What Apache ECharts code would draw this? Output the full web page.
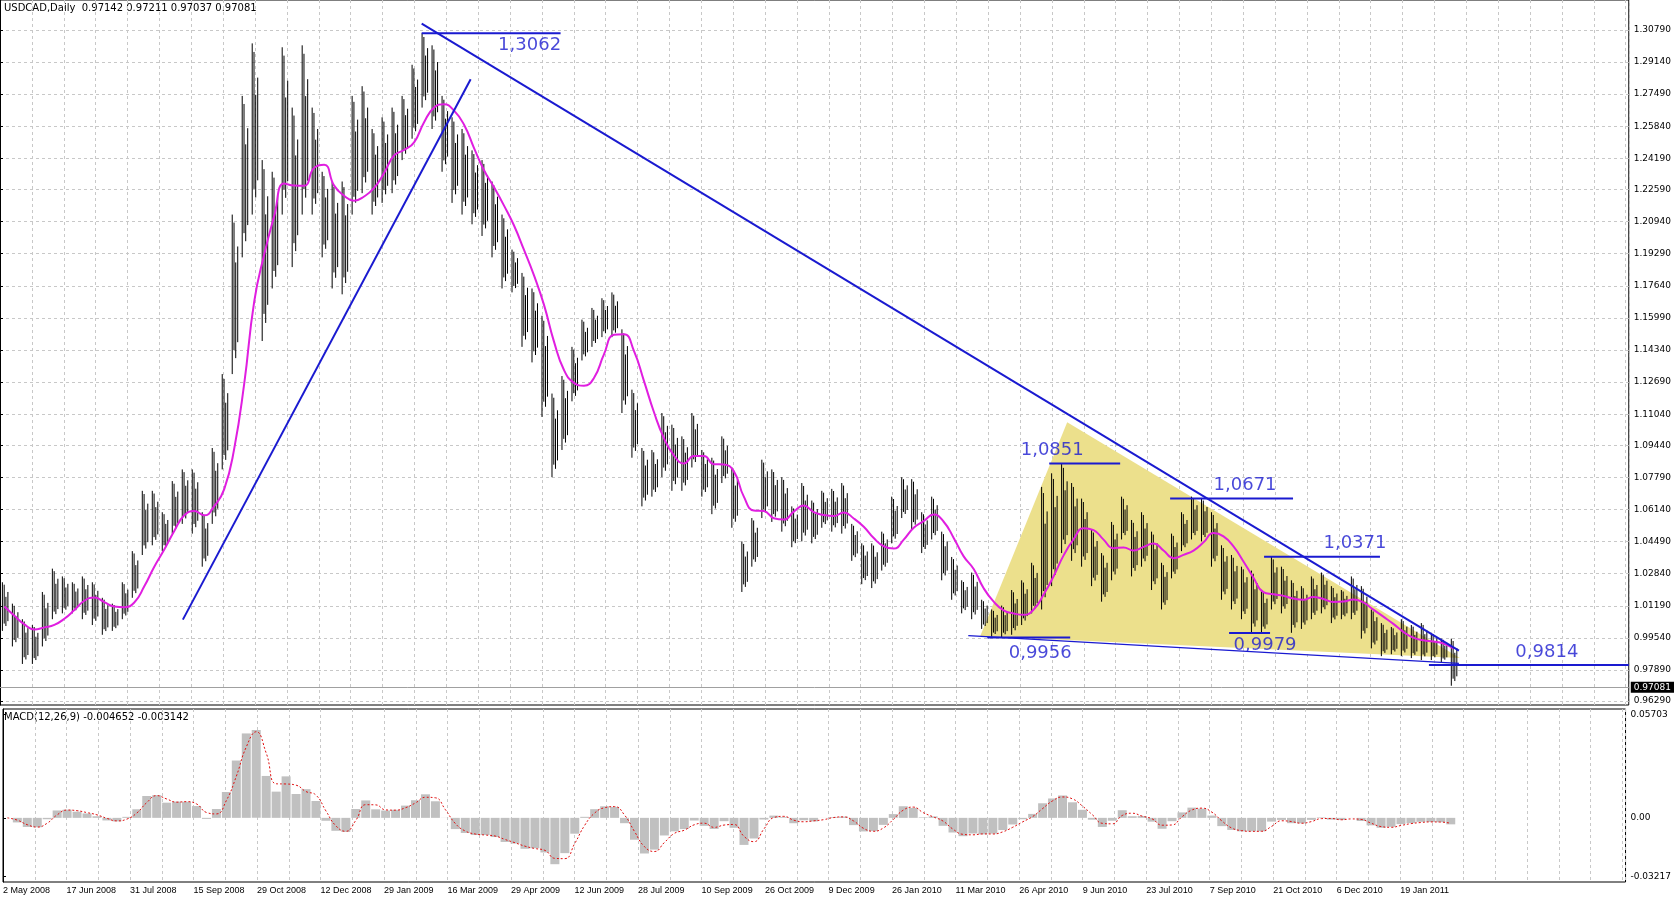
<!DOCTYPE html>
<html><head><meta charset="utf-8">
<script src="https://cdn.jsdelivr.net/npm/echarts@6/dist/echarts.min.js"></script>
<style>html,body{margin:0;padding:0;background:#fff}#c{width:1674px;height:898px}</style>
</head><body><div id="c"></div>
<script>
// weekly high / low (USDCAD)
const weekHigh = [1.024,1.013,1.005,1.002,1.019,1.031,1.027,1.024,1.027,1.024,1.016,1.013,1.024,1.040,1.071,1.071,1.060,1.076,1.082,1.082,
1.060,1.093,1.131,1.213,1.274,1.301,1.241,1.235,1.299,1.268,1.300,1.268,1.235,1.230,1.230,1.274,1.279,1.257,1.263,1.268,
1.274,1.290,1.3062,1.300,1.274,1.263,1.257,1.246,1.241,1.230,1.213,1.195,1.183,1.175,1.161,1.121,1.130,1.145,1.159,1.165,
1.170,1.173,1.154,1.123,1.093,1.092,1.111,1.105,1.099,1.111,1.092,1.088,1.099,1.083,1.045,1.057,1.087,1.082,1.078,1.063,
1.075,1.066,1.071,1.072,1.075,1.054,1.044,1.044,1.050,1.068,1.078,1.077,1.060,1.068,1.050,1.037,1.025,1.029,1.015,1.010,
1.012,1.020,1.025,1.034,1.073,1.080,1.0851,1.075,1.067,1.051,1.039,1.055,1.068,1.056,1.060,1.050,1.034,1.049,1.060,1.068,
1.0671,1.060,1.043,1.038,1.032,1.030,1.020,1.0371,1.032,1.025,1.022,1.027,1.029,1.022,1.020,1.027,1.022,1.010,1.003,1.001,
1.005,1.002,1.003,0.998,0.995,0.995];
const weekLow = [0.999,0.991,0.982,0.982,0.991,1.005,1.008,1.008,1.005,1.002,0.997,0.999,1.005,1.016,1.038,1.043,1.040,1.049,1.054,1.049,
1.032,1.054,1.082,1.131,1.191,1.213,1.148,1.175,1.213,1.186,1.213,1.213,1.191,1.175,1.172,1.213,1.224,1.213,1.219,1.224,
1.241,1.252,1.268,1.257,1.235,1.219,1.213,1.208,1.202,1.191,1.175,1.173,1.145,1.137,1.109,1.078,1.092,1.117,1.138,1.145,
1.150,1.150,1.111,1.088,1.063,1.068,1.078,1.071,1.071,1.083,1.068,1.059,1.075,1.052,1.019,1.032,1.057,1.055,1.050,1.042,
1.045,1.044,1.052,1.050,1.049,1.035,1.023,1.021,1.030,1.044,1.057,1.051,1.039,1.046,1.025,1.015,1.008,1.005,1.000,0.996,
0.9956,0.997,1.002,1.008,1.010,1.022,1.039,1.035,1.032,1.022,1.014,1.025,1.046,1.027,1.032,1.020,1.010,1.026,1.040,1.046,
1.045,1.032,1.015,1.010,1.005,0.998,0.9979,1.010,1.008,0.998,1.000,1.005,1.008,1.003,1.005,1.005,0.995,0.990,0.986,0.987,
0.986,0.985,0.984,0.984,0.983,0.9708];
const lastClose = 0.97081;
const dateLabels = ['2 May 2008','17 Jun 2008','31 Jul 2008','15 Sep 2008','29 Oct 2008','12 Dec 2008','29 Jan 2009','16 Mar 2009',
'29 Apr 2009','12 Jun 2009','28 Jul 2009','10 Sep 2009','26 Oct 2009','9 Dec 2009','26 Jan 2010','11 Mar 2010','26 Apr 2010',
'9 Jun 2010','23 Jul 2010','7 Sep 2010','21 Oct 2010','6 Dec 2010','19 Jan 2011'];
const priceTicks = [1.30790,1.29140,1.27490,1.25840,1.24190,1.22590,1.20940,1.19290,1.17640,1.15990,1.14340,1.12690,1.11040,
1.09440,1.07790,1.06140,1.04490,1.02840,1.01190,0.99540,0.97890,0.96290];
const macdTicks = [0.05703,0.00,-0.03217];
// annotations: [week position, price]
const downTrend = [[42.2,1.3112],[146.0,0.9889]];
const upTrend = [[18.3,1.0048],[47.1,1.2826]];
const supportLine = [[96.9,0.9966],[146.0,0.9823]];
const levelLines = [
  [[42.2,1.3062],[56.1,1.3062]],
  [[105.0,1.0851],[112.1,1.0851]],
  [[117.1,1.0671],[129.4,1.0671]],
  [[126.5,1.0371],[138.1,1.0371]],
  [[123.0,0.9979],[127.1,0.9979]],
  [[98.8,0.9956],[107.1,0.9956]],
  [[143.0,0.9814],[163,0.9814]]
];
const levelTexts = [['1,3062',53.0,1.3062,'below'],['1,0851',105.3,1.0851,'above'],['1,0671',124.6,1.0671,'above'],
 ['1,0371',135.6,1.0371,'above'],['0,9979',126.6,0.9979,'below'],['0,9956',104.1,0.9956,'belowFar'],['0,9814',154.8,0.9814,'above']];
const triangle = [[98.1,0.9964],[106.8,1.1062],[146.1,0.9850]];

const OFF = 0.44, STEP = 3.19;
const mid = weekHigh.map((h,i)=>(h+weekLow[i])/2);
const bars = weekHigh.map((h,i)=>[i+OFF, weekLow[i], h]);
const ma = mid.map((v,i)=>{const s=Math.max(0,i-4);let t=0;for(let j=s;j<=i;j++)t+=mid[j];return [i+OFF,t/(i-s+1)];});
function ema(arr,n){const a=2/(n+1);let e=arr[0];return arr.map(v=>(e=e+a*(v-e)));}
const ef=ema(mid,2.4), es=ema(mid,5.2);
const macd=ef.map((v,i)=>v-es[i]);
const sig=macd.map((v,i)=>i>0?(v+macd[i-1])/2:v);

const BLUE='#1a1ad0';
const font='DejaVu Sans';
const chart=echarts.init(document.getElementById('c'));
const xBase={type:'value',min:0,max:163,interval:STEP,axisLine:{show:false},axisTick:{show:false},
  splitLine:{show:true,lineStyle:{color:'#c8c8c8',type:[3,3]}}};
const series=[
 {type:'custom',xAxisIndex:0,yAxisIndex:0,z:1,silent:true,renderItem:(p,api)=>{
   const pts=triangle.map(t=>api.coord(t));
   return {type:'polygon',shape:{points:pts},style:{fill:'#ece08c'}};},data:[0]},
 {type:'custom',xAxisIndex:0,yAxisIndex:0,z:3,data:bars,renderItem:(p,api)=>{
   const a=api.coord([api.value(0),api.value(1)]),b=api.coord([api.value(0),api.value(2)]);
   return {type:'group',children:[
    {type:'line',shape:{x1:a[0]-2,y1:a[1],x2:a[0]-2,y2:b[1]},style:{stroke:'#000',lineWidth:1}},
    {type:'line',shape:{x1:a[0]+1.5,y1:(a[1]*0.3+b[1]*0.7),x2:a[0]+1.5,y2:a[1]-(a[1]-b[1])*0.1},style:{stroke:'#000',lineWidth:1}},
    {type:'line',shape:{x1:a[0]-0.2,y1:a[1]-(a[1]-b[1])*0.15,x2:a[0]-0.2,y2:b[1]+(a[1]-b[1])*0.05},style:{stroke:'#000',lineWidth:1}},
    {type:'line',shape:{x1:a[0]+3.5,y1:a[1]-(a[1]-b[1])*0.2,x2:a[0]+3.5,y2:b[1]+(a[1]-b[1])*0.2},style:{stroke:'#000',lineWidth:1}}
   ]};}},
 {type:'line',data:ma,smooth:true,symbol:'none',z:4,lineStyle:{color:'#e01ee0',width:2}},
 {type:'line',data:downTrend,symbol:'none',z:5,lineStyle:{color:BLUE,width:2}},
 {type:'line',data:upTrend,symbol:'none',z:5,lineStyle:{color:BLUE,width:2}},
 {type:'line',data:supportLine,symbol:'none',z:5,lineStyle:{color:BLUE,width:1.2}},
 ...levelLines.map(l=>({type:'line',data:l,symbol:'none',z:5,lineStyle:{color:BLUE,width:2}})),
 {type:'scatter',symbolSize:0,z:6,silent:true,
  data:levelTexts.map(t=>({value:[t[1],t[2]],label:{show:true,formatter:t[0],position:t[3]==='above'?'top':'bottom',
    distance:t[3]==='belowFar'?7:(t[3]==='below'?3:4)}})),
  label:{color:BLUE,fontSize:18,fontFamily:font}},
 {type:'line',data:[],markLine:{symbol:'none',silent:true,data:[{yAxis:lastClose}],lineStyle:{color:'#a0a0a0',width:1,type:'solid'},
   label:{position:'end',formatter:lastClose.toFixed(5),backgroundColor:'#000',color:'#fff',fontSize:9,fontFamily:font,padding:[1,3],distance:2}}},
 {type:'bar',xAxisIndex:1,yAxisIndex:1,data:macd.map((v,i)=>[i+OFF,v]),barWidth:9,itemStyle:{color:'#c0c0c0'}},
 {type:'line',xAxisIndex:1,yAxisIndex:1,data:sig.map((v,i)=>[i+OFF,v]),symbol:'none',smooth:true,lineStyle:{color:'#e01010',width:1,type:[2,2]}}
];
chart.setOption({
 animation:false,backgroundColor:'#fff',
 grid:[{left:0,right:41,top:0,height:705,show:true,borderColor:'#000',borderWidth:1},
       {left:0,right:41,top:709,height:173,show:true,borderColor:'#000',borderWidth:1}],
 xAxis:[Object.assign({},xBase,{gridIndex:0,axisLabel:{show:false}}),
   Object.assign({},xBase,{gridIndex:1,axisLabel:{show:true,align:'left',margin:4,fontSize:9,fontFamily:'Liberation Sans',color:'#000',
     formatter:v=>{const k=Math.round(v/STEP);return k%2===0&&dateLabels[k/2]?dateLabels[k/2]:'';}}})],
 yAxis:[{type:'value',gridIndex:0,position:'right',min:0.9609,max:1.3233,
   axisLine:{show:true,lineStyle:{color:'#000'}},
   axisTick:{show:true,customValues:priceTicks,length:3,lineStyle:{color:'#000'}},
   axisLabel:{customValues:priceTicks,formatter:v=>v.toFixed(5),fontSize:9,fontFamily:font,color:'#000',margin:5},
   splitLine:{show:true,customValues:priceTicks,lineStyle:{color:'#c8c8c8',type:[3,3]}}},
  {type:'value',gridIndex:1,position:'right',min:-0.0353,max:0.0599,
   axisLine:{show:true,lineStyle:{color:'#000'}},
   axisTick:{show:true,customValues:macdTicks,length:3},
   axisLabel:{customValues:macdTicks,formatter:v=>v===0?'0.00':v.toFixed(5),fontSize:9,fontFamily:font,color:'#000',margin:5},
   splitLine:{show:false}}],
 graphic:[{type:'text',left:4,top:3,style:{text:'USDCAD,Daily  0.97142 0.97211 0.97037 0.97081',fontSize:10,fontFamily:font,fill:'#000'}},
   {type:'text',left:4,top:712,style:{text:'MACD(12,26,9) -0.004652 -0.003142',fontSize:10,fontFamily:font,fill:'#000'}}],
 series
});
</script></body></html>
